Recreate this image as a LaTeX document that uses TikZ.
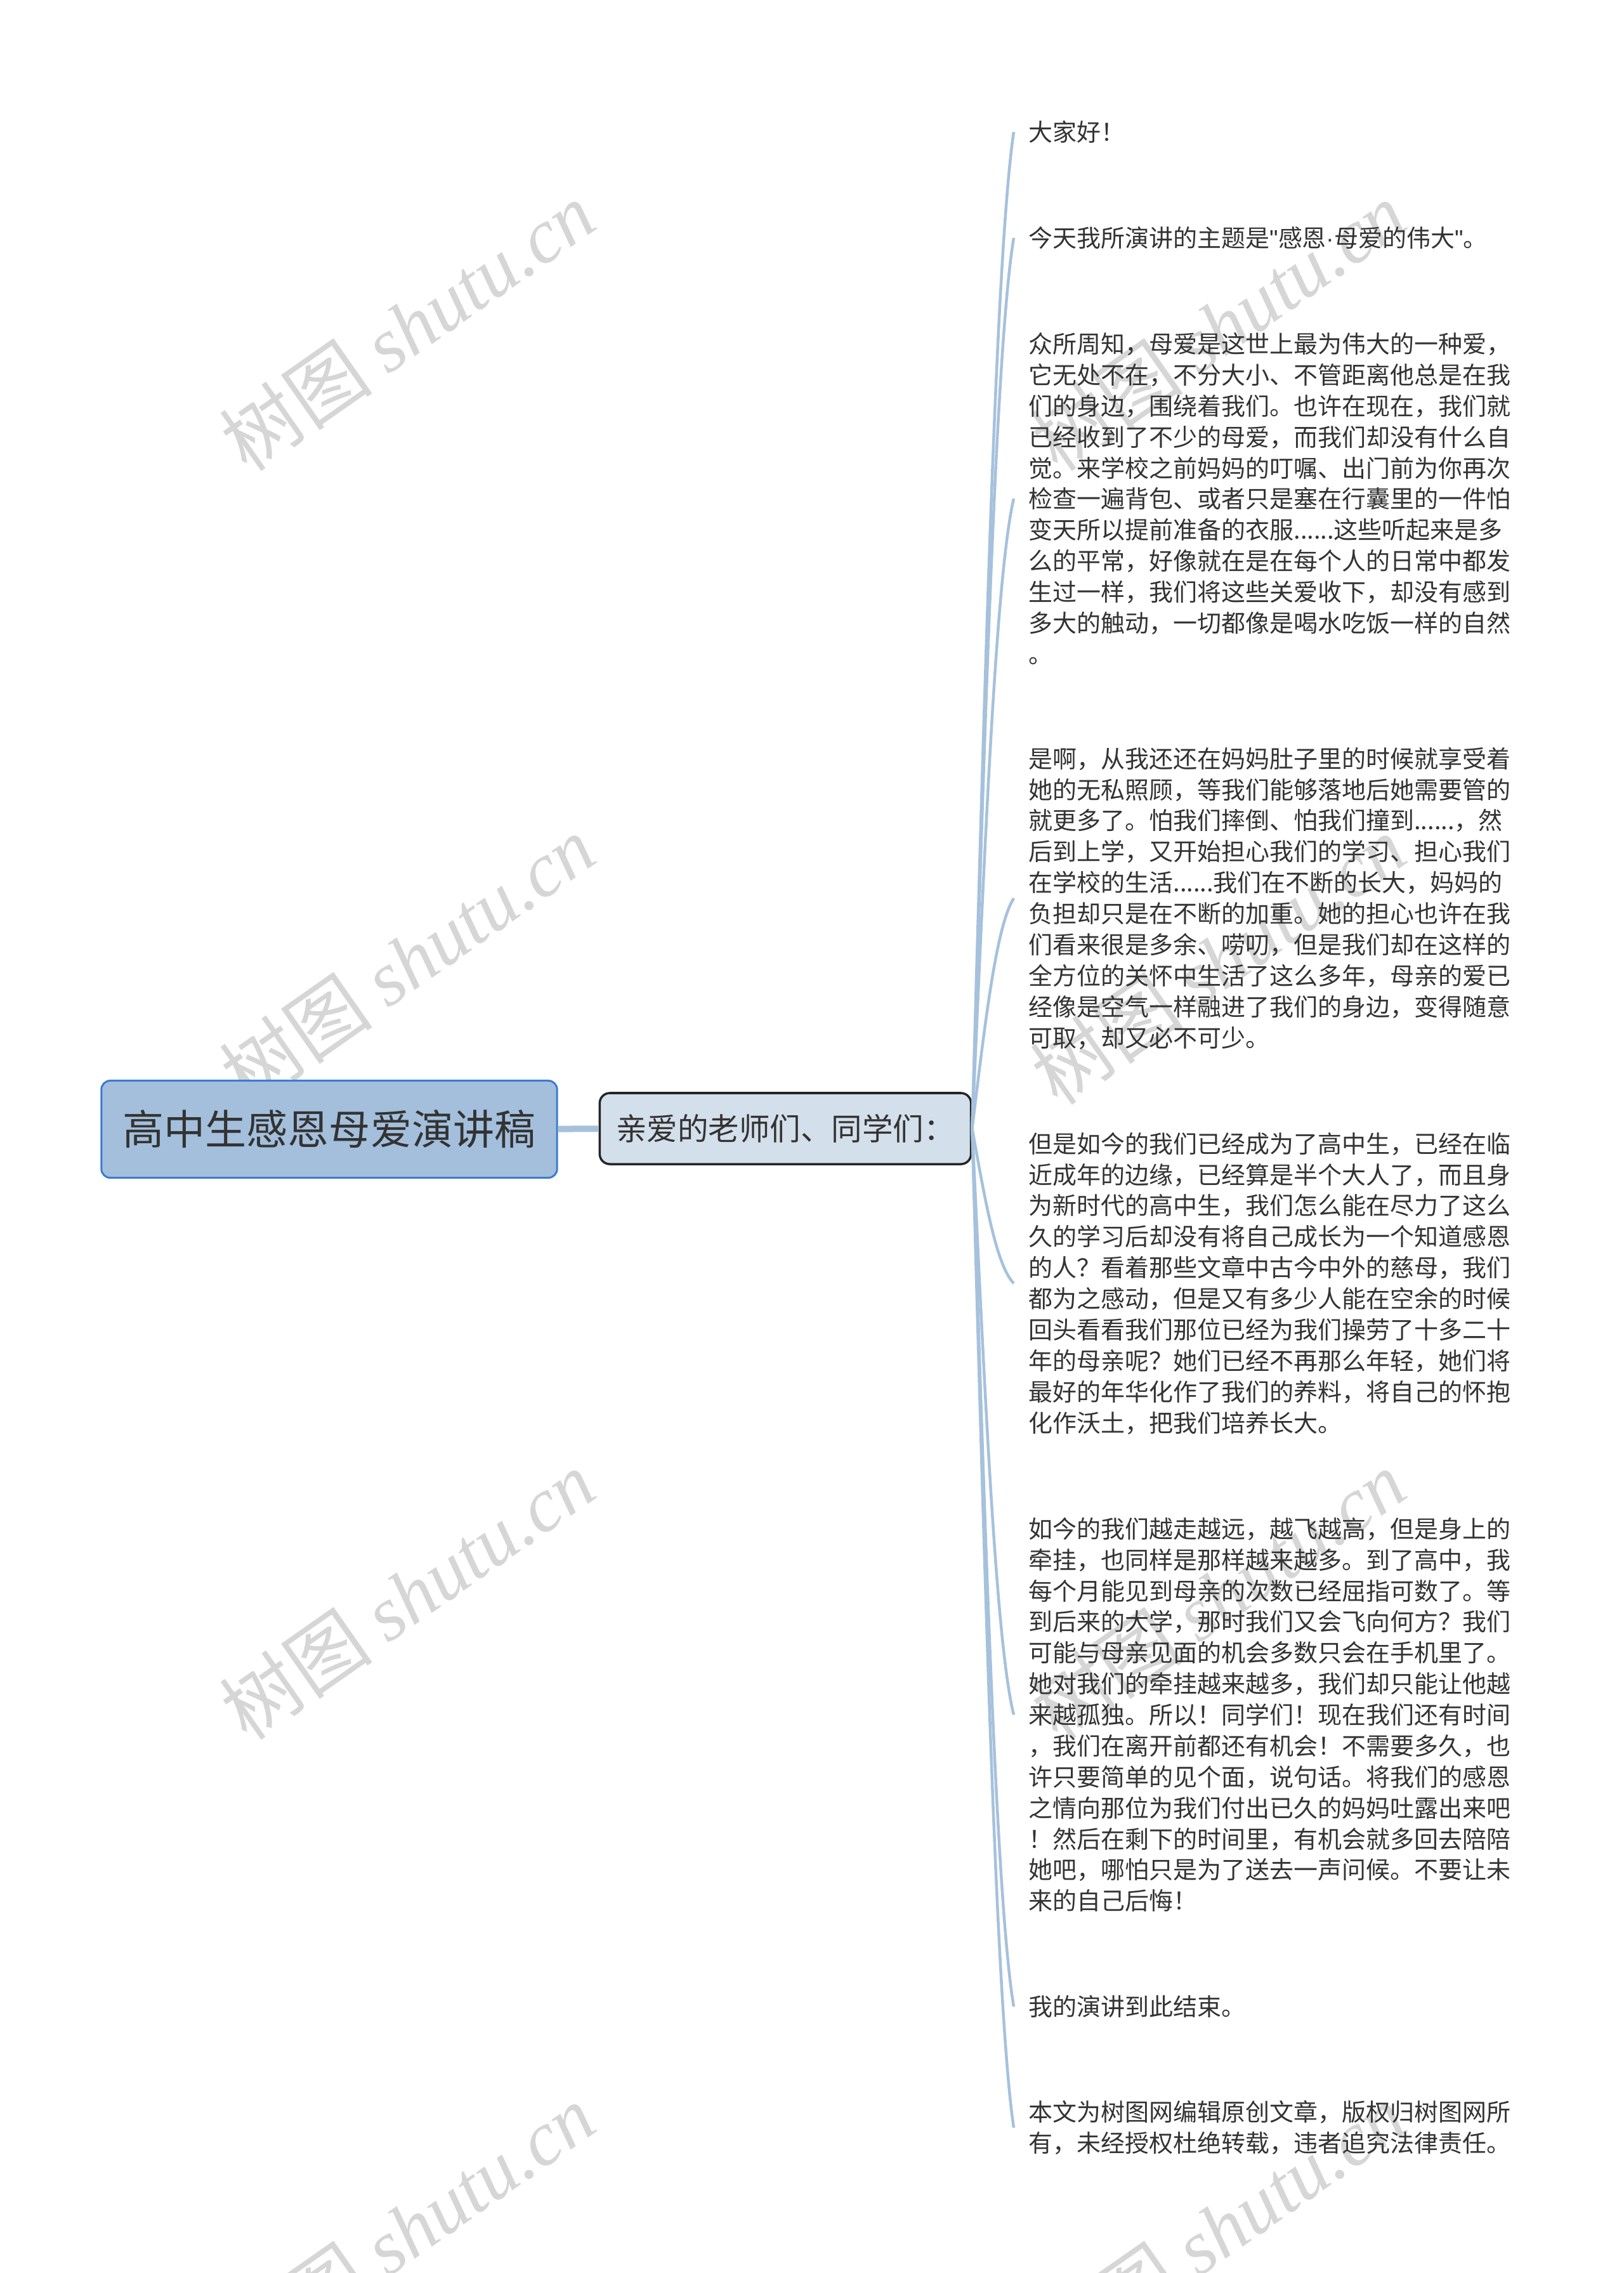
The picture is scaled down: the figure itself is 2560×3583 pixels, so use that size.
\documentclass[tikz,border=0pt]{standalone}
\usepackage{fontspec}
\setmainfont{Noto Sans CJK SC}[Ligatures=TeXOff]
\newfontfamily\wmfont{Liberation Serif}
\newfontfamily\latinfont{Liberation Sans}
\definecolor{rootfill}{HTML}{A3BFDC}
\definecolor{rootline}{HTML}{3D7BD0}
\definecolor{midfill}{HTML}{D3DFEA}
\definecolor{branch}{HTML}{A6C1DC}
\definecolor{ink}{HTML}{333333}
\definecolor{wmgray}{HTML}{D6D6D6}
\tikzstyle{topic}=[draw=rootline,line width=0.03cm,fill=rootfill,rounded corners=0.14cm,minimum width=7.18cm,minimum height=1.53cm,inner sep=0pt,text=ink,font=\fontsize{18.5pt}{20pt}\selectfont]
\tikzstyle{sub}=[draw=black!85,line width=0.035cm,fill=midfill,rounded corners=0.16cm,minimum width=5.85cm,minimum height=1.12cm,inner sep=0pt,text=ink,font=\fontsize{13.8pt}{15pt}\selectfont]
\tikzstyle{leaf}=[align=left,anchor=west,inner xsep=0.23cm,inner ysep=0pt,text=ink,font=\fontsize{10.8pt}{13.9pt}\selectfont]
\tikzstyle{wire}=[draw=branch,line width=0.045cm]
\tikzstyle{wmtext}=[text=wmgray,rotate=35,inner sep=0pt,font=\fontsize{34.5pt}{36pt}\selectfont]

\begin{document}
\begin{tikzpicture}[x=0.01cm,y=-0.01cm]
\useasboundingbox (0,0) rectangle (2560,3583);
% watermark
\foreach \wy in {514,1513,2514,3513} {
  \node[wmtext] at (642,\wy) {树图 {\wmfont\itshape shutu.cn}};
  \node[wmtext] at (1920,\wy) {树图 {\wmfont\itshape shutu.cn}};
}
\node[topic] at (519,1780) (root) {高中生感恩母爱演讲稿};
\node[sub] at (1238,1779) (intro) {亲爱的老师们、同学们：};
\node[leaf] at (1598,208) (hello) {大家好！};
\node[leaf] at (1598,375) (theme) {今天我所演讲的主题是{\latinfont "}感恩{\latinfont ·}母爱的伟大{\latinfont "}。};
\node[leaf] at (1598,786) (known) {众所周知，母爱是这世上最为伟大的一种爱，\\它无处不在，不分大小、不管距离他总是在我\\们的身边，围绕着我们。也许在现在，我们就\\已经收到了不少的母爱，而我们却没有什么自\\觉。来学校之前妈妈的叮嘱、出门前为你再次\\检查一遍背包、或者只是塞在行囊里的一件怕\\变天所以提前准备的衣服......这些听起来是多\\么的平常，好像就在是在每个人的日常中都发\\生过一样，我们将这些关爱收下，却没有感到\\多大的触动，一切都像是喝水吃饭一样的自然\\。};
\node[leaf] at (1598,1416) (care) {是啊，从我还还在妈妈肚子里的时候就享受着\\她的无私照顾，等我们能够落地后她需要管的\\就更多了。怕我们摔倒、怕我们撞到......，然\\后到上学，又开始担心我们的学习、担心我们\\在学校的生活......我们在不断的长大，妈妈的\\负担却只是在不断的加重。她的担心也许在我\\们看来很是多余、唠叨，但是我们却在这样的\\全方位的关怀中生活了这么多年，母亲的爱已\\经像是空气一样融进了我们的身边，变得随意\\可取，却又必不可少。};
\node[leaf] at (1598,2023) (grown) {但是如今的我们已经成为了高中生，已经在临\\近成年的边缘，已经算是半个大人了，而且身\\为新时代的高中生，我们怎么能在尽力了这么\\久的学习后却没有将自己成长为一个知道感恩\\的人？看着那些文章中古今中外的慈母，我们\\都为之感动，但是又有多少人能在空余的时候\\回头看看我们那位已经为我们操劳了十多二十\\年的母亲呢？她们已经不再那么年轻，她们将\\最好的年华化作了我们的养料，将自己的怀抱\\化作沃土，把我们培养长大。};
\node[leaf] at (1598,2703) (away) {如今的我们越走越远，越飞越高，但是身上的\\牵挂，也同样是那样越来越多。到了高中，我\\每个月能见到母亲的次数已经屈指可数了。等\\到后来的大学，那时我们又会飞向何方？我们\\可能与母亲见面的机会多数只会在手机里了。\\她对我们的牵挂越来越多，我们却只能让他越\\来越孤独。所以！同学们！现在我们还有时间\\，我们在离开前都还有机会！不需要多久，也\\许只要简单的见个面，说句话。将我们的感恩\\之情向那位为我们付出已久的妈妈吐露出来吧\\！然后在剩下的时间里，有机会就多回去陪陪\\她吧，哪怕只是为了送去一声问候。不要让未\\来的自己后悔！};
\node[leaf] at (1598,3163) (close) {我的演讲到此结束。};
\node[leaf] at (1598,3354) (note) {本文为树图网编辑原创文章，版权归树图网所\\有，未经授权杜绝转载，违者追究法律责任。};
\draw[wire,line width=0.1cm] (root) -- (intro);
\draw[wire] (intro.east) .. controls +(20,-707) and +(-28,189) .. (hello.west);
\draw[wire] (intro.east) .. controls +(20,-632) and +(-28,168) .. (theme.west);
\draw[wire] (intro.east) .. controls +(20,-447) and +(-28,119) .. (known.west);
\draw[wire] (intro.east) .. controls +(20,-163) and +(-28,44) .. (care.west);
\draw[wire] (intro.east) .. controls +(20,110) and +(-28,-29) .. (grown.west);
\draw[wire] (intro.east) .. controls +(20,416) and +(-28,-111) .. (away.west);
\draw[wire] (intro.east) .. controls +(20,623) and +(-28,-166) .. (close.west);
\draw[wire] (intro.east) .. controls +(20,709) and +(-28,-189) .. (note.west);
\end{tikzpicture}
\end{document}
